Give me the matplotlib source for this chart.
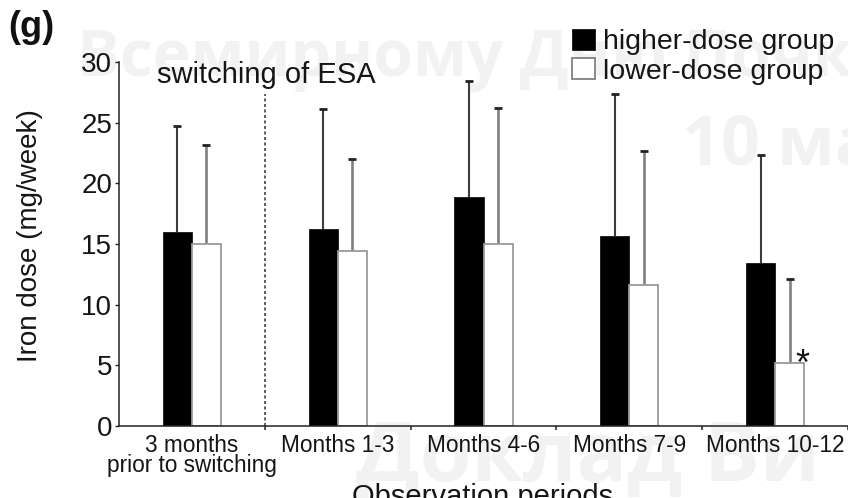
import numpy as np
import matplotlib
matplotlib.use("Agg")
import matplotlib.pyplot as plt
from matplotlib.patches import Patch

# ---------------- data ----------------
categories = ["3 months\nprior to switching", "Months 1-3", "Months 4-6",
              "Months 7-9", "Months 10-12"]
higher = [16.0, 16.2, 18.9, 15.7, 13.4]
higher_sd = [8.7, 9.9, 9.5, 11.7, 8.9]
lower = [15.0, 14.4, 15.0, 11.6, 5.2]
lower_sd = [8.2, 7.6, 11.2, 11.1, 6.9]
yticks = [0, 5, 10, 15, 20, 25, 30]
legend_labels = ["higher-dose group", "lower-dose group"]

base = "Liberation Sans"
tc = "#151515"

W, H = 848, 498
fig = plt.figure(figsize=(W / 100, H / 100), dpi=100)

# watermark (faint background text)
wm = dict(family="Open Sans", fontweight="bold", color="#f2f2f2", zorder=-10,
          va="baseline", ha="left")
fig.text(77 / W, 1 - 76 / H, "Всемирному Дню Почки", fontsize=46, **wm)
fig.text(682 / W, 1 - 165 / H, "10 марта", fontsize=49, **wm)
fig.text(356 / W, 1 - 481 / H, "Доклад Ви", fontsize=60, **wm)

ax = fig.add_axes([119 / W, 72 / H, (W - 119) / W, 364 / H])
ax.patch.set_alpha(0)

n = len(categories)
x = np.arange(n) + 0.5
bw = 0.2
hx = x - bw / 2
lx = x + bw / 2
h_top = np.array(higher) + np.array(higher_sd)
l_top = np.array(lower) + np.array(lower_sd)

# error bars (upward only)
ax.vlines(hx, higher, h_top, color="#3c3c3c", lw=1.5, zorder=1)
ax.vlines(lx, lower, l_top, color="#808080", lw=1.9, zorder=1)
ax.plot(hx, h_top, ls="none", marker="_", ms=6, mew=2.0, color="#222222", zorder=1)
ax.plot(lx, l_top, ls="none", marker="_", ms=6, mew=2.0, color="#222222", zorder=1)

ax.bar(hx, higher, bw, color="black", edgecolor="black", lw=0.5, zorder=2)
ax.bar(lx, lower, bw, color="white", edgecolor="#9a9a9a", lw=1.3, zorder=2)

# switching line & annotation
ax.plot([1, 1], [0, 27.4], color="#333333", lw=1.1, ls=(0, (2, 1.6)), zorder=1)
ax.text(0.26, 28.3, "switching of ESA", fontsize=21, family=base, color=tc,
        ha="left", va="baseline")
ax.text(lx[-1] + 0.085, 4.2, "*", fontsize=26, family=base, color=tc,
        ha="center", va="baseline")

ax.set_xlim(0, n)
ax.set_ylim(0, 30)
for s in ["top", "right"]:
    ax.spines[s].set_visible(False)
for s in ["left", "bottom"]:
    ax.spines[s].set_linewidth(1.1)
    ax.spines[s].set_color("#222222")

ax.set_yticks(yticks)
ax.set_yticklabels([str(v) for v in yticks], family=base, fontsize=20, color=tc)
ax.tick_params(axis="y", length=3, width=1.0, pad=2, color="#222222")

ax.set_xticks(np.arange(1, n + 1))
ax.set_xticklabels([])
ax.set_xticks(x, minor=True)
ax.set_xticklabels(categories, minor=True, color=tc, linespacing=0.8,
                   family=base, fontsize=16.3)
ax.tick_params(axis="x", which="major", length=3, width=1.1, color="#222222")
ax.tick_params(axis="x", which="minor", length=0, pad=6)

fig.text(30 / W, 1 - 236 / H, "Iron dose (mg/week)", rotation=90, fontsize=20,
         family=base, color=tc, ha="center", va="center")
fig.text(483 / W, 1 - 505 / H, "Observation periods", fontsize=21,
         family=base, color=tc, ha="center", va="baseline")
fig.text(8 / W, 1 - 37 / H, "(g)", fontsize=26, family=base, fontweight="bold",
         color="#111111", ha="left", va="baseline")

handles = [Patch(facecolor="black", edgecolor="black", lw=0.5),
           Patch(facecolor="white", edgecolor="#808080", lw=1.3)]
fig.legend(handles, legend_labels, loc="upper left",
           bbox_to_anchor=(572 / W, 1 - 29 / H), frameon=False,
           borderpad=0, borderaxespad=0,
           prop=dict(family=base, size=20.5),
           handlelength=0.8, handleheight=0.75, handletextpad=0.28,
           labelspacing=0.1, labelcolor=tc)

fig.savefig("out.png", dpi=100)
